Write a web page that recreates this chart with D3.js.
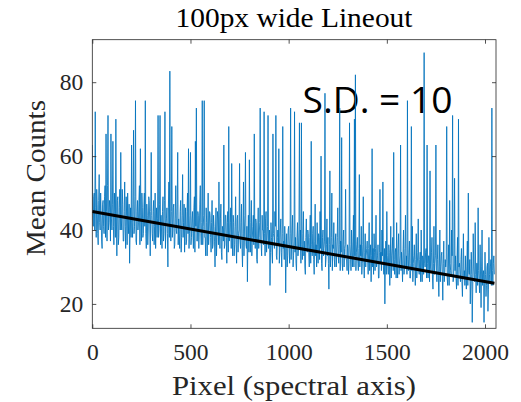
<!DOCTYPE html>
<html>
<head>
<meta charset="utf-8">
<script src="https://cdn.jsdelivr.net/npm/d3@7"></script>
<style>
  body { margin: 0; background: #fff; }
  svg { display: block; }
</style>
</head>
<body>
<svg id="chart" width="521" height="402"></svg>
<script>
// Labels and ticks
const title = "100px wide Lineout";
const xLabel = "Pixel (spectral axis)";
const yLabel = "Mean Counts";
const annotation = "S.D. = 10";
const xTicks = [0, 500, 1000, 1500, 2000];
const yTicks = [20, 40, 60, 80];

// Lineout: mean counts sampled every pixelStep pixels along the spectral axis
const pixelStep = 2.5;
const meanCounts = [
  63,44, 41,49, 50,40, 72,46, 38,51, 47,39, 36,48, 55,42, 40,50, 44,37, 35,47, 48,41, 39,49, 52,38, 66,45, 37,52, 71,40, 42,48, 46,37, 66,43,
  40,47, 64,41, 36,50, 45,38, 70,44, 33,48, 49,36, 38,46, 51,40, 61,43, 40,51, 47,37, 37,45, 53,41, 35,49, 44,36, 50,43, 39,47, 31,40, 46,38,
  63,42, 38,47, 67,39, 41,49, 75,37, 36,45, 48,40, 42,48, 52,36, 62,44, 37,50, 46,38, 39,46, 50,41, 75,39, 35,47, 44,36, 40,49, 48,42, 33,45,
  61,44, 39,37, 45,48, 36,41, 50,35, 42,46, 38,43, 71,38, 40,47, 71,36, 44,40, 35,45, 49,37, 39,48, 72,35, 41,43, 46,39, 30,46, 53,38, 83,41,
  37,45, 68,38, 40,46, 47,35, 36,43, 52,40, 39,47, 61,36, 43,39, 35,45, 48,34, 38,44, 55,38, 42,47, 34,41, 46,36, 37,45, 50,39, 62,35, 39,44,
  61,36, 38,43, 45,39, 35,46, 49,34, 64,41, 73,37, 37,45, 44,35, 40,47, 52,39, 36,42, 75,36, 41,44, 75,38, 38,33, 46,42, 33,40, 50,36, 40,45,
  44,38, 34,42, 48,35, 36,44, 41,37, 30,40, 46,33, 38,45, 43,36, 53,39, 35,43, 47,34, 32,41, 40,37, 63,35, 36,44, 44,38, 31,42, 45,34, 68,37,
  38,42, 46,35, 58,40, 33,44, 42,33, 36,41, 49,36, 31,43, 44,34, 39,40, 58,37, 35,42, 47,35, 30,39, 53,33, 40,44, 61,36, 35,41, 26,38, 44,34,
  59,39, 34,42, 48,33, 38,41, 44,36, 66,38, 35,43, 42,32, 31,40, 46,35, 38,42, 73,37, 36,33, 44,40, 40,36, 72,39, 33,43, 45,34, 37,41, 71,35,
  36,40, 25,34, 42,38, 34,31, 66,39, 38,35, 45,41, 71,33, 32,38, 40,36, 62,31, 35,40, 43,34, 30,39, 68,35, 37,32, 41,37, 23,35, 39,30, 33,40,
  41,35, 31,39, 73,32, 36,40, 44,30, 33,37, 72,34, 38,31, 29,38, 42,33, 35,40, 69,35, 40,31, 69,36, 32,39, 45,33, 37,30, 28,38, 43,35, 34,40,
  39,34, 30,38, 44,31, 64,36, 33,39, 41,32, 28,37, 47,33, 36,30, 42,36, 31,39, 38,32, 45,35, 60,31, 29,38, 40,33, 35,37, 77,30, 32,36, 43,33,
  38,31, 24,36, 56,30, 33,38, 50,29, 36,35, 42,32, 30,37, 39,30, 34,38, 46,33, 31,36, 73,29, 37,34, 65,31, 29,37, 40,30, 35,36, 51,32, 32,29,
  36,35, 28,31, 69,36, 33,29, 40,34, 30,37, 44,30, 70,33, 82,29, 34,36, 38,31, 29,35, 55,30, 36,33, 41,28, 31,36, 49,32, 27,34, 39,30, 33,35,
  37,32, 28,35, 42,29, 33,36, 26,33, 62,30, 35,28, 39,34, 29,35, 44,30, 31,33, 36,27, 27,34, 51,31, 34,29, 40,33, 53,30, 28,35, 20,31, 37,28,
  45,33, 30,28, 36,34, 25,31, 41,27, 33,35, 38,29, 61,32, 28,34, 35,27, 42,31, 27,35, 39,28, 31,33, 63,29, 34,31, 26,34, 40,28, 30,35, 44,30,
  33,28, 75,32, 29,34, 37,27, 27,31, 68,29, 41,26, 31,33, 36,30, 25,32, 39,27, 30,34, 43,29, 28,32, 34,26, 40,30, 26,33, 32,28, 88,31, 30,34,
  35,27, 63,31, 27,33, 33,26, 56,30, 29,34, 38,27, 24,31, 41,28, 31,33, 63,29, 26,32, 36,27, 22,30, 40,26, 30,33, 34,28, 21,31, 37,26, 28,32,
  30,32, 68,27, 25,30, 36,25, 48,31, 29,28, 40,33, 71,26, 27,31, 54,29, 33,27, 24,32, 38,25, 70,30, 31,28, 26,32, 35,26, 22,30, 39,27, 29,25,
  33,27, 24,30, 37,25, 50,29, 28,32, 20,26, 34,28, 15,24, 39,30, 27,26, 42,28, 23,31, 31,25, 46,29, 26,23, 36,27, 19,30, 40,25, 28,29, 15,26,
  34,28, 22,25, 30,31, 18,24, 38,28, 26,30, 32,25, 73,29, 25,31, 33,28
];

// Linear fit endpoints
const fitPixels = [0, 2048];
const fitCounts = [45.0, 25.6];

const xDomain = [0, 2056];
const yDomain = [13.4, 91.5];

const svg = d3.select("#chart");
const plot = { left: 92.3, right: 496, top: 39.7, bottom: 328.3 };
const axisColor = "#262626";
const serif = "'Liberation Serif', 'Times New Roman', serif";

const x = d3.scaleLinear().domain(xDomain).range([plot.left, plot.right]);
const y = d3.scaleLinear().domain(yDomain).range([plot.bottom, plot.top]);

// Annotation sits beneath the data
svg.append("text")
  .attr("x", 302.5)
  .attr("y", 113)
  .attr("font-family", "'Open Sans', Lato, sans-serif")
  .attr("font-size", 36)
  .attr("textLength", 150)
  .attr("lengthAdjust", "spacingAndGlyphs")
  .attr("fill", "#000")
  .text(annotation);

svg.append("defs").append("clipPath").attr("id", "plot-clip")
  .append("rect")
  .attr("x", plot.left).attr("y", plot.top)
  .attr("width", plot.right - plot.left).attr("height", plot.bottom - plot.top);

const dataLine = d3.line()
  .x((d, i) => x(i * pixelStep))
  .y(d => y(d));

svg.append("path")
  .datum(meanCounts)
  .attr("clip-path", "url(#plot-clip)")
  .attr("fill", "none")
  .attr("stroke", "#0072BD")
  .attr("stroke-width", 0.85)
  .attr("d", dataLine);

const fitLine = d3.line()
  .x(d => x(d[0]))
  .y(d => y(d[1]));

svg.append("path")
  .datum(fitPixels.map((p, i) => [p, fitCounts[i]]))
  .attr("fill", "none")
  .attr("stroke", "#000")
  .attr("stroke-width", 3)
  .attr("d", fitLine);

// Axes with inward ticks on all four sides
function styleAxis(g, showLabels) {
  g.select(".domain").remove();
  g.selectAll(".tick line").attr("stroke", axisColor).attr("stroke-width", 0.8);
  g.selectAll(".tick text")
    .attr("fill", axisColor)
    .attr("font-family", serif)
    .attr("font-size", 23.5);
  if (!showLabels) g.selectAll(".tick text").remove();
}

svg.append("g")
  .attr("transform", `translate(0,${plot.bottom})`)
  .call(d3.axisBottom(x).tickValues(xTicks).tickSize(-4).tickPadding(15).tickFormat(d3.format("d")))
  .call(g => styleAxis(g, true));

svg.append("g")
  .attr("transform", `translate(0,${plot.top})`)
  .call(d3.axisTop(x).tickValues(xTicks).tickSize(-4))
  .call(g => styleAxis(g, false));

svg.append("g")
  .attr("transform", `translate(${plot.left},0)`)
  .call(d3.axisLeft(y).tickValues(yTicks).tickSize(-4).tickPadding(9).tickFormat(d3.format("d")))
  .call(g => styleAxis(g, true));

svg.append("g")
  .attr("transform", `translate(${plot.right},0)`)
  .call(d3.axisRight(y).tickValues(yTicks).tickSize(-4))
  .call(g => styleAxis(g, false));

svg.append("rect")
  .attr("x", plot.left).attr("y", plot.top)
  .attr("width", plot.right - plot.left).attr("height", plot.bottom - plot.top)
  .attr("fill", "none")
  .attr("stroke", axisColor)
  .attr("stroke-width", 0.8);

// Title and axis labels
svg.append("text")
  .attr("x", 294).attr("y", 27)
  .attr("text-anchor", "middle")
  .attr("font-family", serif)
  .attr("font-size", 27)
  .attr("textLength", 237)
  .attr("lengthAdjust", "spacingAndGlyphs")
  .attr("fill", "#000")
  .text(title);

svg.append("text")
  .attr("x", 294).attr("y", 395)
  .attr("text-anchor", "middle")
  .attr("font-family", serif)
  .attr("font-size", 27)
  .attr("textLength", 244)
  .attr("lengthAdjust", "spacingAndGlyphs")
  .attr("fill", axisColor)
  .text(xLabel);

svg.append("text")
  .attr("transform", "translate(45,178) rotate(-90)")
  .attr("text-anchor", "middle")
  .attr("font-family", serif)
  .attr("font-size", 27)
  .attr("textLength", 156)
  .attr("lengthAdjust", "spacingAndGlyphs")
  .attr("fill", axisColor)
  .text(yLabel);
</script>
</body>
</html>
